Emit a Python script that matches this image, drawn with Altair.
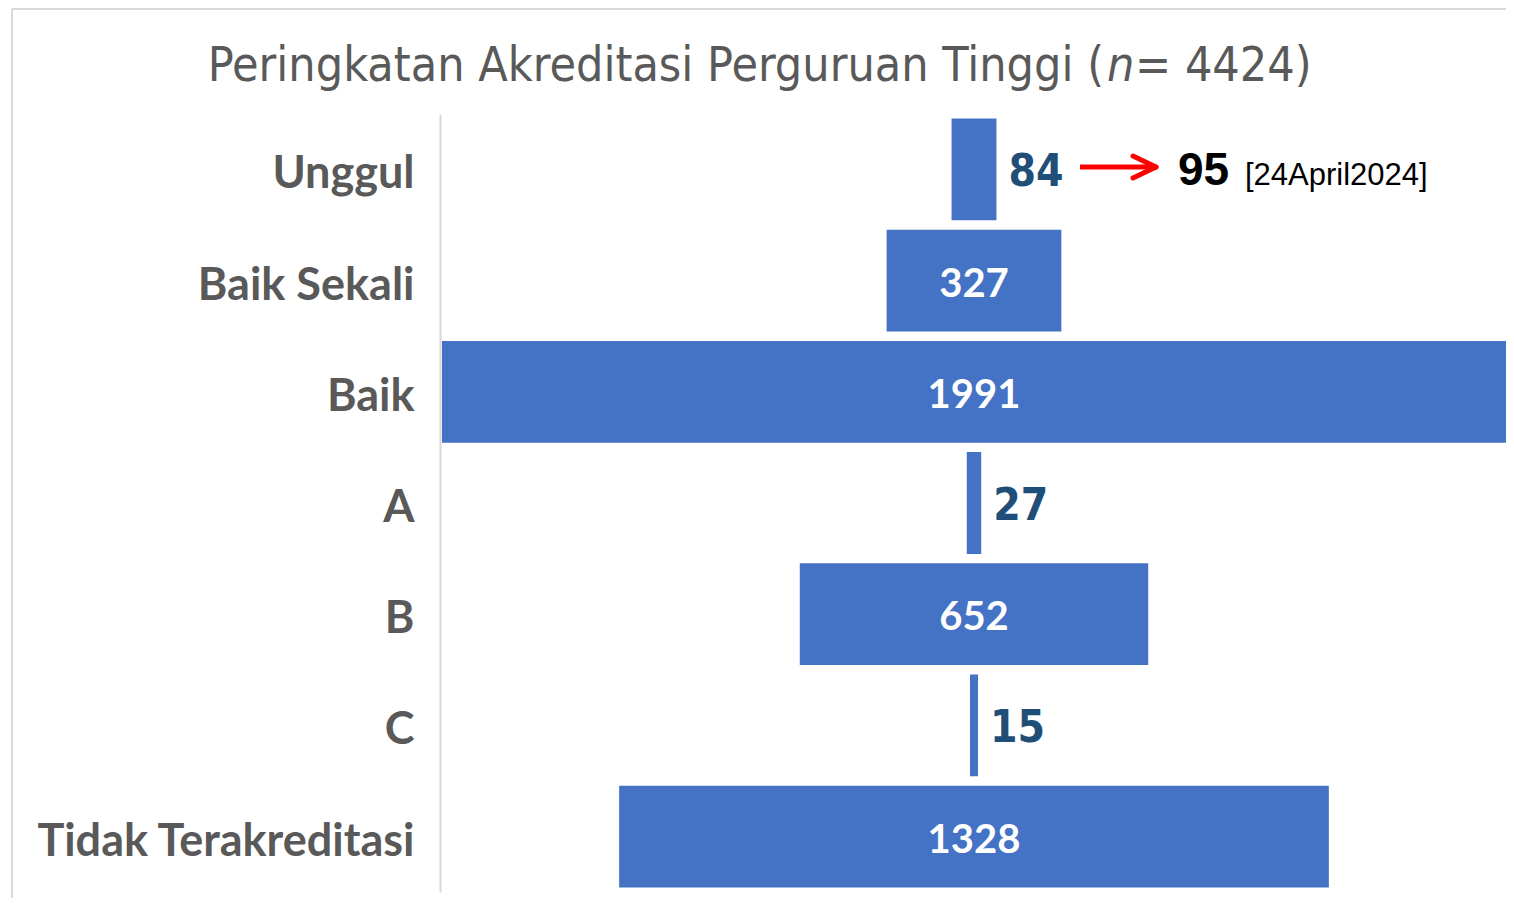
import altair as alt
import pandas as pd

# ---- data ----
categories = ["Unggul", "Baik Sekali", "Baik", "A", "B", "C", "Tidak Terakreditasi"]
counts = [84, 327, 1991, 27, 652, 15, 1328]
label_inside = [False, True, True, False, True, False, True]

title_parts = ["Peringkatan Akreditasi Perguruan Tinggi (", "n", "= 4424)"]
note_value = ["95"]
note_date = ["[24April2024]"]

df = pd.DataFrame({"kategori": categories, "jumlah": counts, "di_dalam": label_inside})

NARROW = "Liberation Sans Narrow, DejaVu Sans Condensed, sans-serif"
BOLDFONT = "Lato, Open Sans, sans-serif"

base = alt.Chart(df).transform_calculate(
    kiri="-datum.jumlah/2", kanan="datum.jumlah/2", tengah="0"
)

half = max(counts) / 2
x_scale = alt.Scale(domain=[-half, half], nice=False, zero=False)

y_enc = alt.Y(
    "kategori:N",
    sort=categories,
    scale=alt.Scale(paddingInner=0.085, paddingOuter=0.04),
    axis=alt.Axis(
        title=None, ticks=False, domainColor="#D9D9D9", domainWidth=2, offset=2,
        labelPadding=26, labelFont=BOLDFONT, labelFontWeight="bold",
        labelFontSize=45, labelColor="#595959", labelLimit=0, labelOffset=5,
    ),
)

bars = base.mark_bar(color="#4472C4").encode(
    x=alt.X("kiri:Q", scale=x_scale, axis=None),
    x2="kanan:Q",
    y=y_enc,
)

inside = base.transform_filter("datum.di_dalam").mark_text(
    color="white", font=BOLDFONT, fontWeight="bold", fontSize=40,
    align="center", baseline="middle", dy=4,
).encode(
    x=alt.X("tengah:Q", scale=x_scale, axis=None),
    y=alt.Y("kategori:N", sort=categories),
    text=alt.Text("jumlah:Q", format="d"),
)

outside = base.transform_filter("!datum.di_dalam").mark_text(
    color="#1F4E79", font=NARROW, fontWeight="bold", fontSize=44,
    align="left", baseline="middle", dx=12, dy=4,
).encode(
    x=alt.X("kanan:Q", scale=x_scale, axis=None),
    y=alt.Y("kategori:N", sort=categories),
    text=alt.Text("jumlah:Q", format="d"),
)

# ---- title in three parts (italic n) ----
tdf = pd.DataFrame({"t1": [title_parts[0]], "t2": [title_parts[1]], "t3": [title_parts[2]]})
tbase = alt.Chart(tdf)
TSIZE = 48
t1 = tbase.mark_text(font=NARROW, fontSize=TSIZE, color="#595959", align="right", baseline="alphabetic").encode(
    x=alt.value(662), y=alt.value(-33), text="t1:N")
t2 = tbase.mark_text(font=NARROW, fontSize=TSIZE, fontStyle="italic", color="#595959", align="left", baseline="alphabetic").encode(
    x=alt.value(665), y=alt.value(-33), text="t2:N")
t3 = tbase.mark_text(font=NARROW, fontSize=TSIZE, color="#595959", align="left", baseline="alphabetic").encode(
    x=alt.value(693), y=alt.value(-33), text="t3:N")

# ---- annotation ----
adf = pd.DataFrame({"v": note_value, "d": note_date})
abase = alt.Chart(adf)
arrow_line = abase.mark_rule(color="#FF0000", strokeWidth=5).encode(
    x=alt.value(638), x2=alt.value(712), y=alt.value(53))
arrow_h1 = abase.mark_rule(color="#FF0000", strokeWidth=5, strokeCap="round").encode(
    x=alt.value(691), x2=alt.value(714), y=alt.value(42), y2=alt.value(53))
arrow_h2 = abase.mark_rule(color="#FF0000", strokeWidth=5, strokeCap="round").encode(
    x=alt.value(691), x2=alt.value(714), y=alt.value(64), y2=alt.value(53))
note_v = abase.mark_text(font="Liberation Sans, Arial, sans-serif", fontWeight="bold", fontSize=46,
                         color="black", align="left", baseline="alphabetic").encode(
    x=alt.value(736), y=alt.value(71), text="v:N")
note_d = abase.mark_text(font="Liberation Sans, Arial, sans-serif", fontSize=31,
                         color="black", align="left", baseline="alphabetic").encode(
    x=alt.value(803), y=alt.value(71), text="d:N")

# ---- frame lines ----
frame_top = abase.mark_rule(color="#D9D9D9", strokeWidth=2).encode(
    x=alt.value(-430), x2=alt.value(1064), y=alt.value(-105))
frame_left = abase.mark_rule(color="#D9D9D9", strokeWidth=2).encode(
    x=alt.value(-430), y=alt.value(-105), y2=alt.value(784))

chart = alt.layer(
    bars, inside, outside, t1, t2, t3,
    arrow_line, arrow_h1, arrow_h2, note_v, note_d, frame_top, frame_left,
).properties(
    width=1064, height=778,
    padding={"left": 434, "top": 106, "right": 0, "bottom": 6},
    autosize=alt.AutoSizeParams(type="none"),
    background="white",
).configure_view(stroke=None)

chart.save("out.html", embed_options={"renderer": "svg", "actions": False})
